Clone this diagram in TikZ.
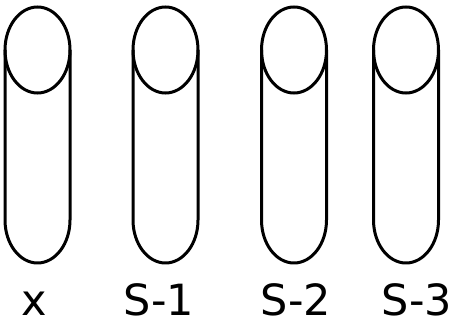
\documentclass[tikz,border=0pt]{standalone}
\usepackage{fontspec}
\setmainfont{DejaVu Sans}
\usetikzlibrary{shapes.geometric}

\begin{document}
\begin{tikzpicture}[
  x=1pt, y=1pt,
  lbl/.style={font=\fontsize{43}{50}\selectfont, inner sep=0pt, anchor=base},
  lid/.style={ellipse, draw=black, line width=3pt, minimum width=65pt, minimum height=86pt, inner sep=0pt, outer sep=0pt},
  tube/.style={draw=black, line width=3pt, line join=round}
]
\useasboundingbox (0,0) rectangle (455,322);

\node[lid] (topx) at (37.5, 272) {};
\node[lid] (top1) at (165.5, 272) {};
\node[lid] (top2) at (294, 272) {};
\node[lid] (top3) at (406, 272) {};
\draw[tube] (topx.west) -- ++(0,-170) arc[start angle=180, end angle=360, x radius=32.5pt, y radius=43pt] -- (topx.east);
\draw[tube] (top1.west) -- ++(0,-170) arc[start angle=180, end angle=360, x radius=32.5pt, y radius=43pt] -- (top1.east);
\draw[tube] (top2.west) -- ++(0,-170) arc[start angle=180, end angle=360, x radius=32.5pt, y radius=43pt] -- (top2.east);
\draw[tube] (top3.west) -- ++(0,-170) arc[start angle=180, end angle=360, x radius=32.5pt, y radius=43pt] -- (top3.east);
\node[lbl] (labx) at (34, 7) {x};
\node[lbl] (lab1) at (159, 7) {S-1};
\node[lbl] (lab2) at (296, 7) {S-2};
\node[lbl] (lab3) at (417, 7) {S-3};

\end{tikzpicture}
\end{document}
